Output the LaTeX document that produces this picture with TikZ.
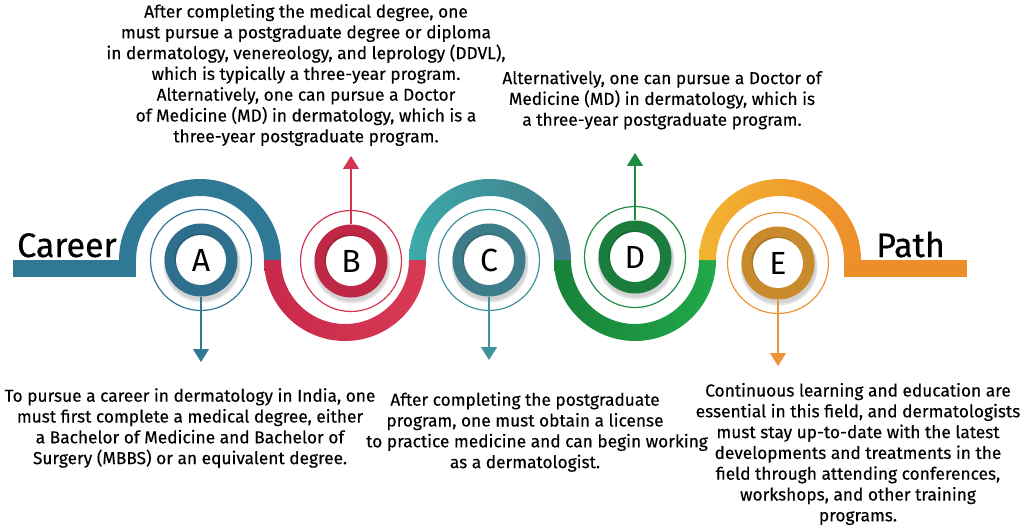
\documentclass[tikz,border=0pt]{standalone}
\usepackage{fontspec}
\setmainfont{Fira Sans}
\newfontfamily\descfont{Fira Sans}[FakeBold=0.25]
\newfontfamily\wordfont{Fira Sans}[FakeBold=0.6]
\usetikzlibrary{arrows.meta}
\definecolor{cA}{HTML}{2F7896}
\definecolor{cAr}{HTML}{2D6F8C}
\definecolor{cB}{HTML}{D3344F}
\definecolor{cBl}{HTML}{C9294A}
\definecolor{cBr}{HTML}{D83A55}
\definecolor{cBr2}{HTML}{BE2844}
\definecolor{cCl}{HTML}{3DAAAA}
\definecolor{cCr}{HTML}{427B88}
\definecolor{cCr2}{HTML}{3C7D89}
\definecolor{cC}{HTML}{3F939A}
\definecolor{cDl}{HTML}{17823A}
\definecolor{cDr}{HTML}{22A84A}
\definecolor{cD}{HTML}{1E8C45}
\definecolor{cDr2}{HTML}{1A7D3E}
\definecolor{cEl}{HTML}{F2B431}
\definecolor{cEr}{HTML}{EE8E2B}
\definecolor{cE}{HTML}{EE9438}
\definecolor{cEr2}{HTML}{C98A2C}
\tikzset{
  x=1pt, y=-1pt,
  thinring/.style={line width=1.2pt},
  whitedisc/.style={circle, fill=white, minimum size=50pt, inner sep=0pt, font=\fontsize{32}{32}\selectfont},
  conn/.style={line width=1.5pt, -{Triangle[width=16pt,length=13pt]}},
  desc/.style={align=center, font=\descfont\fontsize{17.3}{20.8}\selectfont, inner sep=0pt},
  bigword/.style={font=\wordfont\fontsize{34}{34}\selectfont, inner sep=0pt}
}
\newcommand{\toparch}[1]{(#1-81,260) arc[start angle=180, end angle=360, radius=81] -- (#1+64,260) arc[start angle=360, end angle=180, radius=64] -- cycle}
\newcommand{\botarch}[1]{(#1-81,260) arc[start angle=180, end angle=0, radius=81] -- (#1+64,260) arc[start angle=0, end angle=180, radius=64] -- cycle}
\begin{document}
\begin{tikzpicture}
\useasboundingbox (0,0) rectangle (1024,529);
% bars
\fill[cA] (13,260) rectangle (136,277);
\fill[cEr] (844,260) rectangle (967,277);
% arches
\fill[cA] \toparch{200};
\shade[left color=cBl, right color=cBr] \botarch{345};
\shade[left color=cCl, right color=cCr] \toparch{490};
\shade[left color=cDl, right color=cDr] \botarch{635};
\shade[left color=cEl, right color=cEr] \toparch{780};
% words
\node[bigword, anchor=base west] (career) at (17,257) {Career};
\node[bigword, anchor=base west] (path) at (876,257) {Path};
% circles
\foreach \cx/\cy/\rc/\tc in {201/260/cAr/cA, 351/261/cBr2/cB, 489/260/cCr2/cC, 635/257/cDr2/cD, 778/263/cEr2/cE}{
  \draw[\tc, thinring] (\cx,\cy) circle (50.5);
  \fill[black, opacity=0.10] (\cx+1,\cy+4) circle (38.5);
  \fill[black, opacity=0.08] (\cx+1,\cy+3) circle (37.5);
  \fill[\rc] (\cx,\cy) circle (36.5);
  \fill[black, opacity=0.15] (\cx-1,\cy-1) circle (25.5);
}
\node[whitedisc] (A) at (201,260) {A};
\node[whitedisc] (B) at (351,261) {B};
\node[whitedisc] (C) at (489,260) {C};
\node[whitedisc] (D) at (635,257) {D};
\node[whitedisc] (E) at (778,263) {E};
% text
\node[desc] (tB) at (306,75) {After completing the medical degree, one\\must pursue a postgraduate degree or diploma\\in dermatology, venereology, and leprology (DDVL),\\which is typically a three-year program.\\Alternatively, one can pursue a Doctor\\of Medicine (MD) in dermatology, which is a\\three-year postgraduate program.};
\node[desc] (tD) at (662,100) {Alternatively, one can pursue a Doctor of\\Medicine (MD) in dermatology, which is\\a three-year postgraduate program.};
\node[desc] (tA) at (190,428) {To pursue a career in dermatology in India, one\\must first complete a medical degree, either\\a Bachelor of Medicine and Bachelor of\\Surgery (MBBS) or an equivalent degree.};
\node[desc] (tC) at (525,432) {After completing the postgraduate\\program, one must obtain a license\\\hspace*{24pt}to practice medicine and can begin working\\as a dermatologist.};
\node[desc] (tE) at (858,454) {Continuous learning and education are\\essential in this field, and dermatologists\\must stay up-to-date with the latest\\developments and treatments in the\\field through attending conferences,\\workshops, and other training\\programs.};
% arrow ends
\coordinate (aA) at (201,362);
\coordinate (aB) at (351,156);
\coordinate (aC) at (489,360);
\coordinate (aD) at (635,153);
\coordinate (aE) at (778,366);
\draw[conn, cA] (201,296.5) -- (aA);
\draw[conn, cB] (351,224.5) -- (aB);
\draw[conn, cC] (489,296.5) -- (aC);
\draw[conn, cD] (635,220.5) -- (aD);
\draw[conn, cE] (778,299.5) -- (aE);
\end{tikzpicture}
\end{document}
